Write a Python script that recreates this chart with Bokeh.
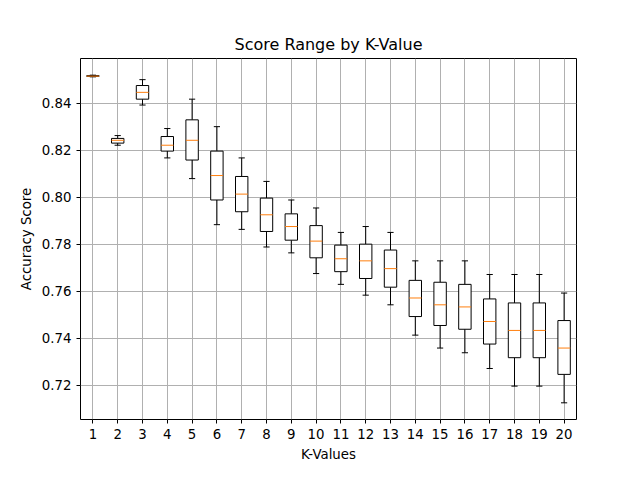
from bokeh.plotting import figure
from bokeh.models import ColumnDataSource, FixedTicker, Range1d, CustomJSTickFormatter
from bokeh.embed import file_html
from bokeh.resources import INLINE

k = list(range(1, 21))
lo  = [0.8512,0.8221,0.8392,0.8167,0.8079,0.7883,0.7863,0.7788,0.7763,0.7675,0.7629,0.7583,0.7542,0.7413,0.7358,0.7338,0.7271,0.7196,0.7196,0.7125]
q1  = [0.8514,0.8230,0.8417,0.8196,0.8158,0.7988,0.7938,0.7854,0.7817,0.7742,0.7683,0.7654,0.7617,0.7492,0.7454,0.7438,0.7375,0.7317,0.7317,0.7246]
med = [0.8515,0.8242,0.8446,0.8221,0.8242,0.8092,0.8013,0.7925,0.7875,0.7813,0.7738,0.7729,0.7696,0.7571,0.7542,0.7533,0.7471,0.7433,0.7433,0.7358]
q3  = [0.8517,0.8250,0.8475,0.8258,0.8329,0.8196,0.8088,0.7996,0.7929,0.7879,0.7796,0.7800,0.7775,0.7646,0.7638,0.7629,0.7567,0.7550,0.7550,0.7475]
hi  = [0.8519,0.8262,0.8500,0.8292,0.8417,0.8300,0.8167,0.8067,0.7988,0.7954,0.7850,0.7875,0.7850,0.7729,0.7729,0.7729,0.7671,0.7671,0.7671,0.7592]
yticks = [0.72,0.74,0.76,0.78,0.80,0.82,0.84]

src = ColumnDataSource(dict(k=k, lo=lo, q1=q1, med=med, q3=q3, hi=hi,
                            kl=[x-0.25 for x in k], kr=[x+0.25 for x in k],
                            cl=[x-0.125 for x in k], cr=[x+0.125 for x in k]))

p = figure(width=624, height=464, output_backend="svg", toolbar_location=None,
           x_range=Range1d(0.5, 20.5), y_range=Range1d(0.7054, 0.859),
           title="Score Range by K-Value", x_axis_label="K-Values", y_axis_label="Accuracy Score",
           min_border_left=80, min_border_right=48, min_border_top=58, min_border_bottom=37)
p.title.align = "center"; p.title.text_font_size = "12pt"; p.title.text_font_style = "normal"
p.title.text_font = "DejaVu Sans"; p.title.text_color = "black"
for ax in (p.xaxis, p.yaxis):
    ax.axis_label_text_font_style = "normal"; ax.axis_label_text_font_size = "10pt"
    ax.axis_label_text_font = "DejaVu Sans"; ax.major_label_text_font = "DejaVu Sans"
    ax.axis_label_text_color = "black"; ax.major_label_text_color = "black"
    ax.major_label_text_font_size = "10pt"; ax.minor_tick_line_color = None
    ax.major_tick_out = 4; ax.major_tick_in = 0; ax.axis_line_color = None
    ax.major_tick_line_color = "black"
p.xaxis.ticker = FixedTicker(ticks=k)
p.yaxis.ticker = FixedTicker(ticks=yticks)
p.yaxis.formatter = CustomJSTickFormatter(code="return tick.toFixed(2);")
p.grid.grid_line_color = "#b0b0b0"; p.grid.grid_line_alpha = 1
p.outline_line_color = "black"; p.outline_line_alpha = 1

p.segment("k", "lo", "k", "q1", source=src, color="black")
p.segment("k", "q3", "k", "hi", source=src, color="black")
p.segment("cl", "lo", "cr", "lo", source=src, color="black")
p.segment("cl", "hi", "cr", "hi", source=src, color="black")
p.quad(left="kl", right="kr", bottom="q1", top="q3", source=src, fill_color="white", line_color="black")
p.segment("kl", "med", "kr", "med", source=src, color="#ff7f0e")

open("out.html", "w").write(file_html(p, INLINE))
